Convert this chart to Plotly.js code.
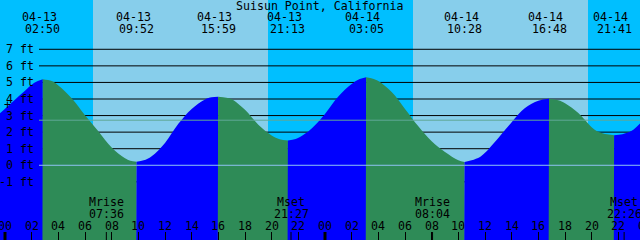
<!DOCTYPE html>
<html><head><meta charset="utf-8">
<script src="https://cdn.plot.ly/plotly-3.0.1.min.js"></script>
<style>html,body{margin:0;padding:0;background:#00BFFF;}#chart{width:640px;height:240px;}</style>
</head><body><div id="chart"></div>
<script>
const chartTitle = 'Suisun Point, California';
// hours since 04-13 00:00, tide height in feet
const tideHours = [-0.375,0.5,1.5,2.2,2.833,
  3.5,4.0,5.0,6.0,7.0,8.0,9.0,9.4,9.867,
  10.4,11.0,12.0,13.0,14.0,15.0,15.5,15.983,
  16.6,17.0,18.0,19.0,20.0,20.6,21.217,
  21.8,22.5,23.0,24.0,25.0,26.0,26.6,27.083,
  27.6,28.0,29.0,30.0,31.0,32.0,33.0,34.0,34.467,
  35.0,35.625,36.0,37.0,38.0,39.0,40.0,40.8,
  41.5,42.0,43.0,44.0,44.5,45.0,45.683,
  46.3,47.0,47.625];
const tideFeet = [3.14,3.78,4.5,4.98,5.19,
  5.08,4.82,4.05,3.02,2.05,1.07,0.42,0.27,0.22,
  0.3,0.55,1.35,2.5,3.4,3.97,4.1,4.14,
  4.08,3.98,3.35,2.45,1.8,1.57,1.49,
  1.58,1.9,2.22,3.1,4.15,4.9,5.2,5.31,
  5.22,5.08,4.42,3.4,2.35,1.45,0.8,0.3,0.2,
  0.3,0.5,0.75,1.65,2.6,3.45,3.9,4.02,
  3.92,3.75,3.15,2.3,2.02,1.88,1.81,
  1.87,2.08,2.52];
const extremaHours = [2.833,9.867,15.983,21.217,27.083,34.467,40.8,45.683];
const extremaDates = ['04-13','04-13','04-13','04-13','04-14','04-14','04-14','04-14'];
const extremaTimes = ['02:50','09:52','15:59','21:13','03:05','10:28','16:48','21:41'];
const sunriseHours = [6.6, 30.6];
const sunsetHours = [19.725, 43.725];
const moonHours = [7.6, 21.45, 32.067, 46.433];
const moonEvents = ['Mrise','Mset','Mrise','Mset'];
const moonTimes = ['07:36','21:27','08:04','22:26'];
const hourTicks = [0,2,4,6,8,10,12,14,16,18,20,22,24,26,28,30,32,34,36,38,40,42,44,46,48];
const hourLabels = ['00','02','04','06','08','10','12','14','16','18','20','22','00','02','04','06','08','10','12','14','16','18','20','22','00'];
const midnightHours = [0, 24, 48];
const levelTicks = [-1,0,1,2,3,4,5,6,7];
const levelLabels = ['-1 ft','0 ft','1 ft','2 ft','3 ft','4 ft','5 ft','6 ft','7 ft'];
const meanLevel = 2.72;
const datumLevel = 0;

const XR = [-0.375, 47.625], YR = [-4.51, 9.975];
const W = 640, H = 240;
const FONT = {family:'DejaVu Sans Mono', size:11.6, color:'#000'};
const RISE = '#0000FF', FALL = '#2E8B57';
const py = p => 1 - p / H;  // paper y from pixel row
const pxp = p => p / W;

// split curve into segments at extrema
const traces = [];
let start = 0;
const cuts = extremaHours.map(h => tideHours.indexOf(h)).filter(i => i > 0);
cuts.push(tideHours.length - 1);
cuts.forEach(end => {
  const xs = tideHours.slice(start, end + 1), ys = tideFeet.slice(start, end + 1);
  const col = ys[ys.length - 1] > ys[0] ? RISE : FALL;
  traces.push({x:[xs[0]-0.04, xs[xs.length-1]+0.04], y:[-10,-10], mode:'lines', line:{width:0}, hoverinfo:'skip', showlegend:false});
  traces.push({x:xs, y:ys, mode:'lines', line:{width:0, shape:'spline', smoothing:1, color:col}, fill:'tonexty', fillcolor:col, hoverinfo:'skip', showlegend:false});
  start = end;
});

const shapes = [];
sunriseHours.forEach((s, i) => shapes.push({type:'rect', layer:'below', xref:'x', yref:'paper', x0:s, x1:sunsetHours[i], y0:0, y1:1, fillcolor:'#87CEEB', line:{width:0}}));
levelTicks.forEach(v => shapes.push({type:'line', layer:'below', xref:'paper', yref:'y', x0:pxp(39), x1:1, y0:v, y1:v, line:{color:'#000', width:1}}));
shapes.push({type:'line', layer:'above', xref:'paper', yref:'y', x0:pxp(39), x1:1, y0:meanLevel, y1:meanLevel, line:{color:'#5FA896', width:1}});
shapes.push({type:'line', layer:'above', xref:'paper', yref:'y', x0:pxp(39), x1:1, y0:datumLevel, y1:datumLevel, line:{color:'#90C4F4', width:1}});
midnightHours.forEach(h => shapes.push({type:'line', layer:'above', xref:'x', yref:'paper', x0:h, x1:h, y0:0, y1:8/H, line:{color:'#000', width:3}}));
moonHours.forEach(h => shapes.push({type:'line', layer:'above', xref:'x', yref:'paper', x0:h, x1:h, y0:0, y1:8/H, line:{color:'#000', width:1}}));

const ann = [];
const A = o => ann.push(Object.assign({showarrow:false, font:FONT, yanchor:'middle', xanchor:'center'}, o));
A({text:chartTitle, xref:'paper', yref:'paper', x:0.5, y:py(6)});
extremaHours.forEach((h, i) => {
  A({text:extremaDates[i], xref:'x', yref:'paper', x:h, y:py(17.5), xshift:-3.5});
  A({text:extremaTimes[i], xref:'x', yref:'paper', x:h, y:py(29)});
});
moonHours.forEach((h, i) => {
  A({text:moonEvents[i], xref:'x', yref:'paper', x:h, y:py(201.5)});
  A({text:moonTimes[i], xref:'x', yref:'paper', x:h, y:py(213.5)});
});
hourTicks.forEach((h, i) => {
  const f = (h - XR[0]) / (XR[1] - XR[0]);
  A({text:hourLabels[i], xref:'paper', yref:'paper', x:f, y:py(226)});
});
levelTicks.forEach((v, i) => A({text:levelLabels[i], xref:'paper', yref:'y', x:pxp(36), y:v, xanchor:'right'}));
A({text:'+', xref:'paper', yref:'paper', x:pxp(7), y:py(105)});

const layout = {
  width:W, height:H, margin:{l:0, r:0, t:0, b:0},
  paper_bgcolor:'#00BFFF', plot_bgcolor:'#00BFFF',
  showlegend:false,
  xaxis:{range:XR, showgrid:false, zeroline:false, showline:false, showticklabels:false,
         ticks:'inside', ticklen:8, tickwidth:1, tickcolor:'#000', tickmode:'array', tickvals:hourTicks, fixedrange:true},
  yaxis:{range:YR, visible:false, showgrid:false, zeroline:false, fixedrange:true},
  shapes:shapes, annotations:ann
};
Plotly.newPlot('chart', traces, layout, {staticPlot:true, displayModeBar:false});
</script></body></html>
